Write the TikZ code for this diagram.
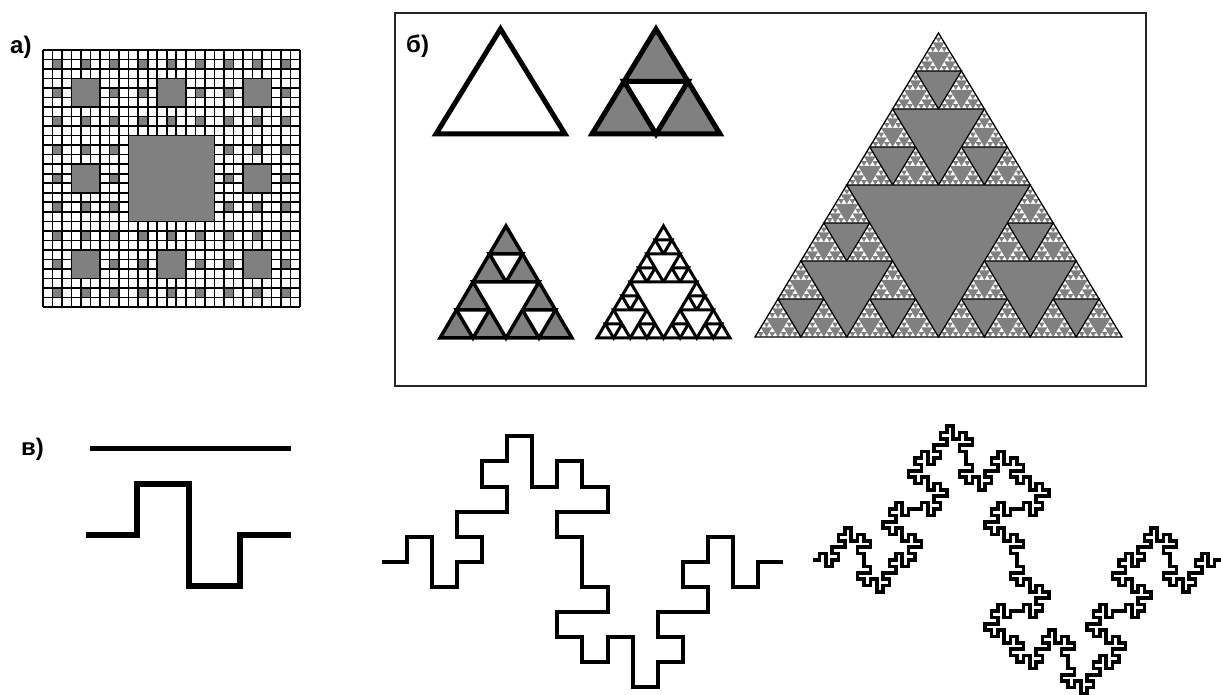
\documentclass[tikz,border=0pt]{standalone}
\usepackage{fontspec}
\setmainfont{Liberation Sans}
\usetikzlibrary{lindenmayersystems}

\definecolor{fractgray}{RGB}{128,128,128}

\pgfdeclarelindenmayersystem{minkowski}{\rule{F -> F+F-F-FF+F+F-F}}

% Sierpinski triangle: level, x, y (bottom left), width, height
\def\sdrawmin{1}
\newcommand\sierp[5]{%
  \ifnum#1>0
    \begingroup
    \pgfmathtruncatemacro\slev{#1-1}%
    \pgfmathsetmacro\sw{#4/2}%
    \pgfmathsetmacro\sh{#5/2}%
    \pgfmathsetmacro\sxa{#2+#4/4}%
    \pgfmathsetmacro\sxb{#2+#4/2}%
    \pgfmathsetmacro\sxc{#2+3*#4/4}%
    \pgfmathsetmacro\sym{#3+#5/2}%
    \edef\snext{%
      \noexpand\sierp{\slev}{#2}{#3}{\sw}{\sh}%
      \noexpand\sierp{\slev}{\sxb}{#3}{\sw}{\sh}%
      \noexpand\sierp{\slev}{\sxa}{\sym}{\sw}{\sh}}%
    \snext
    \ifnum#1<\sdrawmin
      \fill[sierp center] (\sxa,\sym) -- (\sxc,\sym) -- (\sxb,#3) -- cycle;
    \else
      \filldraw[sierp center, sierp line] (\sxa,\sym) -- (\sxc,\sym) -- (\sxb,#3) -- cycle;
    \fi
    \endgroup
  \else
    \fill[sierp leaf] (#2,#3) -- ++(#4,0) -- ++(-#4/2,#5) -- cycle;
  \fi}

\begin{document}
\begin{tikzpicture}[x=1pt, y=1pt,
  panel label/.style={font=\bfseries\fontsize{24}{28}\selectfont, inner sep=0pt, anchor=base west},
  carpet line/.style={draw=black, line width=1.6pt},
  sierp line/.style={draw=black, line width=5pt},
  sierp center/.style={fill=white},
  sierp leaf/.style={fill=white},
  koch/.style={draw=black, line width=#1}]
\useasboundingbox (0,0) rectangle (1221,695);

% a) carpet
\node[panel label] (lbla) at (10,641) {а)};
\begin{scope}[shift={(43,388)}]
\def\cw{9.52}
\fill[white] (0,0) rectangle (27*\cw,27*\cw);
\foreach \i in {1,4,...,25}
  \foreach \j in {1,4,...,25}
    \fill[fractgray] (\i*\cw,\j*\cw) rectangle ++(\cw,\cw);
\foreach \k in {0,...,27} {
  \draw[carpet line] (\k*\cw,0) -- (\k*\cw,27*\cw);
  \draw[carpet line] (0,\k*\cw) -- (27*\cw,\k*\cw);
}
\foreach \i in {3,21}
  \foreach \j in {3,12,21}
    \filldraw[fill=fractgray, carpet line] (\i*\cw,\j*\cw) rectangle ++(3*\cw,3*\cw);
\filldraw[fill=fractgray, carpet line] (12*\cw,3*\cw) rectangle ++(3*\cw,3*\cw);
\filldraw[fill=fractgray, carpet line] (12*\cw,21*\cw) rectangle ++(3*\cw,3*\cw);
\filldraw[fill=fractgray, carpet line] (9*\cw,9*\cw) rectangle ++(9*\cw,9*\cw);
\end{scope}

% b) triangles
\draw[line width=2pt, black!85] (395,309) rectangle (1146,682);
\node[panel label] (lblb) at (406,642) {б)};

\sierp{0}{436}{561}{129}{105}
\draw[sierp line] (436,561) -- ++(129,0) -- ++(-64.5,105) -- cycle;

\begin{scope}[sierp leaf/.style={fill=fractgray}]
\sierp{1}{592}{561}{128}{105}
\draw[sierp line] (592,561) -- ++(128,0) -- ++(-64,105) -- cycle;
\end{scope}

\begin{scope}[sierp leaf/.style={fill=fractgray}, sierp line/.style={draw=black, line width=3.5pt}]
\sierp{2}{440}{357}{132}{112}
\draw[sierp line] (440,357) -- ++(132,0) -- ++(-66,112) -- cycle;
\end{scope}

\begin{scope}[sierp line/.style={draw=black, line width=3pt}]
\sierp{3}{597}{357}{133}{112}
\draw[sierp line] (597,357) -- ++(133,0) -- ++(-66.5,112) -- cycle;
\end{scope}

\begin{scope}[sierp center/.style={fill=fractgray}, sierp line/.style={draw=black, line width=1.3pt}]
\def\sdrawmin{4}
\sierp{6}{755}{358}{367}{304}
\draw[sierp line] (755,358) -- ++(367,0) -- ++(-183.5,304) -- cycle;
\end{scope}

% c) curve
\node[panel label] (lblc) at (21,239) {в)};
\draw[koch=5pt] (90,246.5) -- (291,246.5);
\draw[koch=6pt, shift={(86,160)}, l-system={minkowski, axiom=F, order=1, step=51.25pt, angle=90}] lindenmayer system;
\draw[koch=4pt, shift={(382,133.3)}, l-system={minkowski, axiom=F, order=2, step=25.06pt, angle=90}] lindenmayer system;
\draw[koch=3.6pt, shift={(813,135)}, l-system={minkowski, axiom=F, order=3, step=6.375pt, angle=90}] lindenmayer system;

\end{tikzpicture}
\end{document}
